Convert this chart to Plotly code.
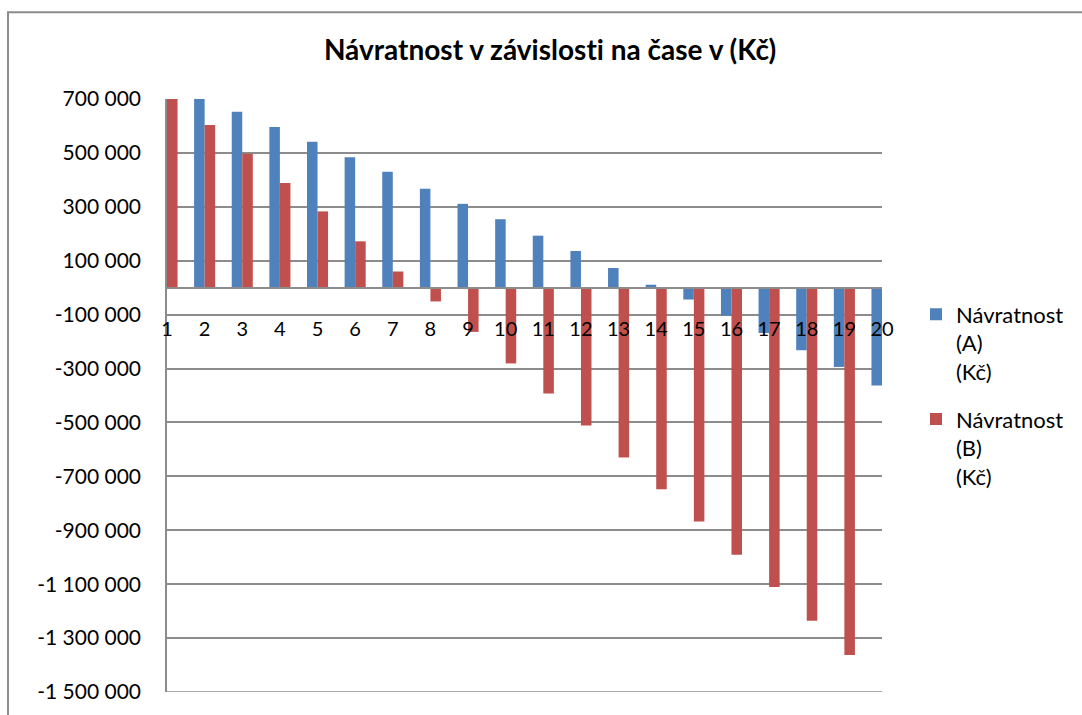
import plotly.graph_objects as go

# Payback of the two variants over the years (CZK)
periods = list(range(1, 21))
navratnost_a = [755000, 705000, 653000, 596000, 541000, 484000, 430000, 367000, 311000, 254000,
                193000, 136000, 73000, 11000, -44000, -104000, -168000, -232000, -294000, -363000]
navratnost_b = [709000, 604000, 497000, 388000, 283000, 172000, 60000, -51000, -164000, -281000,
                -393000, -511000, -630000, -748000, -867000, -991000, -1110000, -1236000, -1363000, -1490000]

y_tick_values = [700000, 500000, 300000, 100000, -100000, -300000, -500000, -700000,
                 -900000, -1100000, -1300000, -1500000]
y_tick_labels = ["700 000", "500 000", "300 000", "100 000", "-100 000", "-300 000", "-500 000",
                 "-700 000", "-900 000", "-1 100 000", "-1 300 000", "-1 500 000"]
x_tick_labels = [str(p) for p in periods]

series_names = ["Návratnost<br>(A)<br>(Kč)", "Návratnost<br>(B)<br>(Kč)"]
# zero-width non-joiner keeps "t" and "i" from fusing into a ligature in Lato
title_text = "Návratnost v závislost\u200ci na čase v (Kč)"

BLUE = "#4F81BD"
RED = "#C0504D"
GRID = "#8c8c8c"
FONT = "Lato"

y_min, y_max = -1500000, 700000
zero_pos = (0 - y_min) / (y_max - y_min)

fig = go.Figure()
fig.add_trace(go.Bar(x=periods, y=navratnost_a, name=series_names[0], marker_color=BLUE,
                     marker_line_width=0, legendgroup="a"))
fig.add_trace(go.Bar(x=periods, y=navratnost_b, name=series_names[1], marker_color=RED,
                     marker_line_width=0, legendgroup="b"))

W, H = 1082, 715
ml, mr, mt, mb = 167, 200, 99, 21
pw, ph = W - ml - mr, H - mt - mb


def px_to_paper_x(px):
    return (px - ml) / pw


def px_to_paper_y(py):
    return (H - mb - py) / ph


fig.update_layout(
    width=W, height=H,
    margin=dict(l=ml, r=mr, t=mt, b=mb, pad=0),
    paper_bgcolor="white", plot_bgcolor="white",
    barmode="group", bargap=0.44, bargroupgap=0,
    font=dict(family=FONT, color="black"),
    title=dict(text="<b>" + title_text + "</b>", font=dict(family=FONT, size=28, color="black"),
               x=px_to_paper_x(550), xref="paper", xanchor="center",
               y=1 - 50 / H, yref="container", yanchor="middle"),
    xaxis=dict(range=[1, 20], tickvals=periods, ticktext=x_tick_labels,
               anchor="free", position=zero_pos,
               showline=True, linecolor=GRID, linewidth=1.5,
               showgrid=False, zeroline=False, ticks="",
               ticklabelstandoff=24, tickfont=dict(family=FONT, size=20, color="black")),
    yaxis=dict(range=[y_min, y_max], tickvals=y_tick_values, ticktext=y_tick_labels,
               showline=True, linecolor=GRID, linewidth=1.5,
               showgrid=True, gridcolor=GRID, gridwidth=1.5, zeroline=False, ticks="",
               ticklabelstandoff=20, tickfont=dict(family=FONT, size=21, color="black")),
    legend=dict(x=px_to_paper_x(916), xanchor="left", y=px_to_paper_y(294), yanchor="top",
                font=dict(family=FONT, size=22, color="black"), valign="top",
                tracegroupgap=16, bgcolor="rgba(0,0,0,0)", itemclick=False),
    showlegend=True,
    shapes=[
        # chart-area border
        dict(type="rect", xref="paper", yref="paper",
             x0=px_to_paper_x(8), x1=px_to_paper_x(1092),
             y0=px_to_paper_y(722), y1=px_to_paper_y(12),
             line=dict(color=GRID, width=2), fillcolor="rgba(0,0,0,0)", layer="below"),
        # gridline at the bottom of the value axis
        dict(type="line", xref="paper", yref="y", x0=0, x1=1, y0=y_min, y1=y_min,
             line=dict(color=GRID, width=1.5), layer="below"),
    ],
)

fig.write_html("out.html")
